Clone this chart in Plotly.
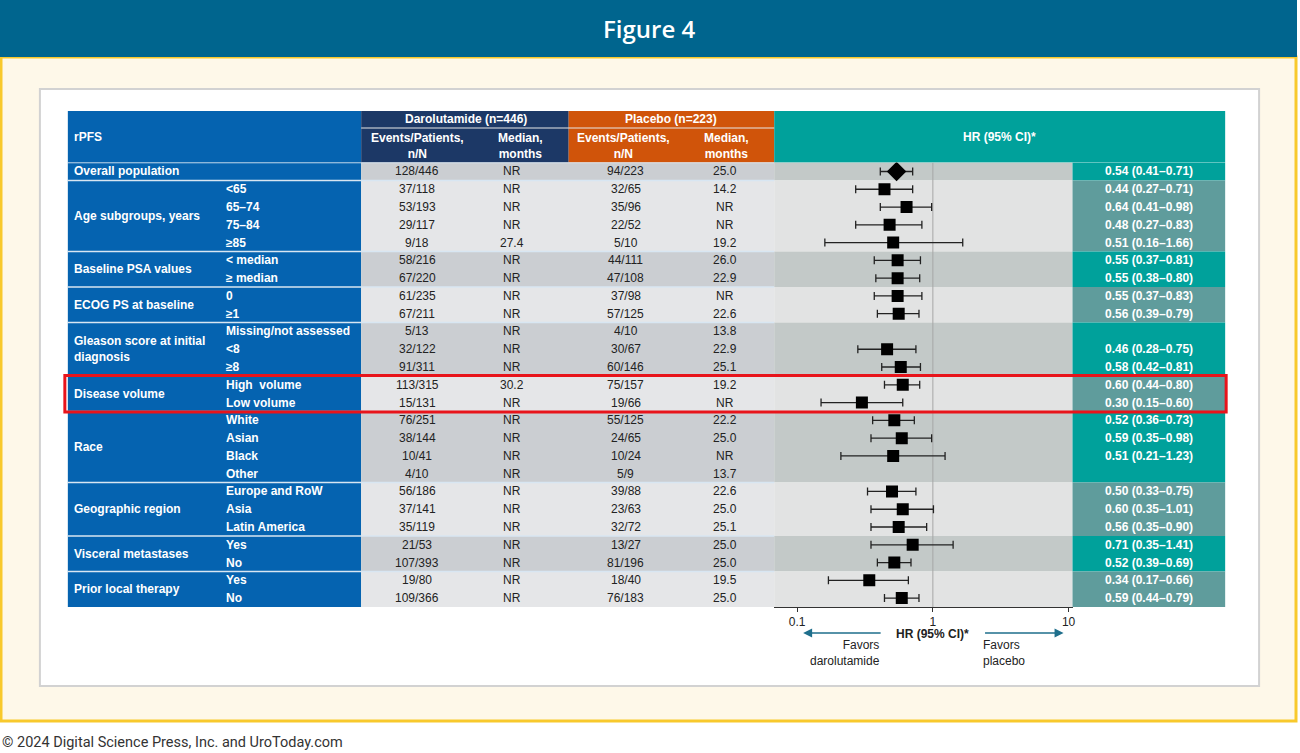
import plotly.graph_objects as go

# ---------------- data ----------------
group_names = ["Overall population", "Age subgroups, years", "Baseline PSA values",
               "ECOG PS at baseline", "Gleason score at initial<br>diagnosis", "Disease volume",
               "Race", "Geographic region", "Visceral metastases", "Prior local therapy"]
group_sizes = [1, 4, 2, 2, 3, 2, 4, 3, 2, 2]

sub_labels = ["", "<65", "65–74", "75–84", "≥85", "< median", "≥ median", "0", "≥1",
              "Missing/not assessed", "<8", "≥8", "High  volume", "Low volume",
              "White", "Asian", "Black", "Other", "Europe and RoW", "Asia", "Latin America",
              "Yes", "No", "Yes", "No"]
daro_events = ["128/446", "37/118", "53/193", "29/117", "9/18", "58/216", "67/220", "61/235",
               "67/211", "5/13", "32/122", "91/311", "113/315", "15/131", "76/251", "38/144",
               "10/41", "4/10", "56/186", "37/141", "35/119", "21/53", "107/393", "19/80", "109/366"]
daro_median = ["NR", "NR", "NR", "NR", "27.4", "NR", "NR", "NR", "NR", "NR", "NR", "NR", "30.2",
               "NR", "NR", "NR", "NR", "NR", "NR", "NR", "NR", "NR", "NR", "NR", "NR"]
pbo_events = ["94/223", "32/65", "35/96", "22/52", "5/10", "44/111", "47/108", "37/98", "57/125",
              "4/10", "30/67", "60/146", "75/157", "19/66", "55/125", "24/65", "10/24", "5/9",
              "39/88", "23/63", "32/72", "13/27", "81/196", "18/40", "76/183"]
pbo_median = ["25.0", "14.2", "NR", "NR", "19.2", "26.0", "22.9", "NR", "22.6", "13.8", "22.9",
              "25.1", "19.2", "NR", "22.2", "25.0", "NR", "13.7", "22.6", "25.0", "25.1", "25.0",
              "25.0", "19.5", "25.0"]
hr = [0.54, 0.44, 0.64, 0.48, 0.51, 0.55, 0.55, 0.55, 0.56, None, 0.46, 0.58, 0.60, 0.30,
      0.52, 0.59, 0.51, None, 0.50, 0.60, 0.56, 0.71, 0.52, 0.34, 0.59]
lo = [0.41, 0.27, 0.41, 0.27, 0.16, 0.37, 0.38, 0.37, 0.39, None, 0.28, 0.42, 0.44, 0.15,
      0.36, 0.35, 0.21, None, 0.33, 0.35, 0.35, 0.35, 0.39, 0.17, 0.44]
hi = [0.71, 0.71, 0.98, 0.83, 1.66, 0.81, 0.80, 0.83, 0.79, None, 0.75, 0.81, 0.80, 0.60,
      0.73, 0.98, 1.23, None, 0.75, 1.01, 0.90, 1.41, 0.69, 0.66, 0.79]
tick_vals = [0.1, 1, 10]
tick_text = ["0.1", "1", "10"]

# ---------------- layout helpers ----------------
W, H = 1300, 753
def px(x): return x / W
def py(y): return 1 - y / H

FONT = "Liberation Sans, Arial, sans-serif"
shapes = []
ann = []

def rect(x0, y0, x1, y1, fill, yref="paper", line_color=None, line_width=0, layer="below"):
    if yref == "paper":
        y0, y1 = py(y0), py(y1)
    shapes.append(dict(type="rect", xref="paper", yref=yref, x0=px(x0), x1=px(x1), y0=y0, y1=y1,
                       fillcolor=fill, layer=layer,
                       line=dict(color=line_color or fill, width=line_width)))

def text(x, y, s, size=12, color="#222", xanchor="center", yref="paper", bold=False, family=FONT,
         align="center", weight=None):
    if yref == "paper":
        y = py(y)
    f = dict(size=size, color=color, family=family)
    if weight:
        f["weight"] = weight
    ann.append(dict(x=px(x), y=y, xref="paper", yref=yref, text=("<b>%s</b>" % s) if bold else s,
                    showarrow=False, xanchor=xanchor, yanchor="middle", align=align, font=f))

# frame
rect(1, 57, 1299, 721, "#fef8e9", line_color="#f8c92c", line_width=3)
rect(0, 0, 1300, 57, "#00658e")
rect(40, 89, 1262, 686, "#ffffff", line_color="#d2d2d2", line_width=2)

# header
TOP, HB = 111, 162.6
rect(68, TOP, 362, HB, "#0563b0")
rect(362, TOP, 570, HB, "#1c3866")
rect(570, TOP, 776, HB, "#d0540a")
rect(776, TOP, 1228, HB, "#00a19b")
shapes.append(dict(type="line", xref="paper", yref="paper", x0=px(362), x1=px(776),
                   y0=py(128), y1=py(128), line=dict(color="#e8e8e8", width=1)))

# body
rect(68, HB, 362, 607, "#0563b0")
start = 0
for gi, sz in enumerate(group_sizes):
    dark = gi % 2 == 0
    y0, y1 = start - 0.5, start + sz - 0.5
    rect(362, y0, 776, y1, "#cbced2" if dark else "#e5e6e8", yref="y")
    rect(776, y0, 1075, y1, "#c3c9c8" if dark else "#e2e3e3", yref="y")
    rect(1075, y0, 1228, y1, "#00a19b" if dark else "#5f9c9c", yref="y")
    shapes.append(dict(type="line", xref="paper", yref="y", x0=px(68), x1=px(776), y0=y0, y1=y0,
                       line=dict(color="#d8e6f2", width=1.5), layer="below"))
    cy = start + (sz - 1) / 2
    text(72, cy, group_names[gi], yref="y", color="white", bold=True, xanchor="left", align="left")
    start += sz

# reference line at HR = 1
shapes.append(dict(type="line", xref="x", yref="y", x0=1, x1=1, y0=-0.5, y1=24.5,
                   line=dict(color="#a6a6a6", width=1), layer="below"))

# header texts
text(72, 137, "rPFS", color="white", bold=True, xanchor="left")
text(467, 119.5, "Darolutamide (n=446)", color="white", bold=True)
text(673, 119.5, "Placebo (n=223)", color="white", bold=True)
for cx, l1, l2 in [(418, "Events/Patients,", "n/N"), (522, "Median,", "months"),
                   (625, "Events/Patients,", "n/N"), (728, "Median,", "months")]:
    text(cx, 146, l1 + "<br>" + l2, color="white", bold=True)
text(1002, 137, "HR (95% CI)*", color="white", bold=True)

# table cells
for i in range(len(sub_labels)):
    if sub_labels[i]:
        text(225, i, sub_labels[i], yref="y", color="white", bold=True, xanchor="left")
    text(418, i, daro_events[i], yref="y")
    text(513, i, daro_median[i], yref="y")
    text(627, i, pbo_events[i], yref="y")
    text(727, i, pbo_median[i], yref="y")
    if hr[i] is not None:
        text(1152, i, "%.2f (%.2f–%.2f)" % (hr[i], lo[i], hi[i]), yref="y", color="white", bold=True)

# red highlight box
shapes.append(dict(type="rect", xref="paper", yref="paper", x0=px(65), x1=px(1229),
                   y0=py(375.5), y1=py(412), line=dict(color="#e8141b", width=3), layer="above"))

# axis caption and arrows
text(935, 634, "HR (95% CI)*", bold=True)
ann.append(dict(x=px(805), y=py(633), ax=79, ay=0, xref="paper", yref="paper",
                axref="pixel", ayref="pixel", showarrow=True, arrowhead=2, arrowsize=1.2,
                arrowwidth=1.5, arrowcolor="#1f6f8c", text=""))
ann.append(dict(x=px(1066), y=py(633), ax=-80, ay=0, xref="paper", yref="paper",
                axref="pixel", ayref="pixel", showarrow=True, arrowhead=2, arrowsize=1.2,
                arrowwidth=1.5, arrowcolor="#1f6f8c", text=""))
text(884, 653, "Favors<br>darolutamide", xanchor="right", align="right")
text(983, 653, "Favors<br>placebo", xanchor="left", align="left")

# title & footer
text(650, 29, "Figure 4", size=24, color="white", family="Open Sans, sans-serif", weight=600)
text(0, 742, "© 2024 Digital Science Press, Inc. and UroToday.com", size=14.5, color="#333",
     xanchor="left", family="Roboto, sans-serif")

# ---------------- traces ----------------
rows = list(range(len(hr)))
def err(idx):
    xs = [hr[i] for i in idx]
    plus = [(hi[i] - hr[i]) if hr[i] is not None else None for i in idx]
    minus = [(hr[i] - lo[i]) if hr[i] is not None else None for i in idx]
    return xs, plus, minus

fig = go.Figure()
xs, plus, minus = err([0])
fig.add_trace(go.Scatter(x=xs, y=[0], mode="markers",
                         marker=dict(symbol="diamond", size=15, color="black"),
                         error_x=dict(type="data", symmetric=False, array=plus, arrayminus=minus,
                                      color="#222", thickness=1.3, width=4)))
idx = rows[1:]
xs, plus, minus = err(idx)
fig.add_trace(go.Scatter(x=xs, y=idx, mode="markers",
                         marker=dict(symbol="square", size=12, color="black"),
                         error_x=dict(type="data", symmetric=False, array=plus, arrayminus=minus,
                                      color="#222", thickness=1.3, width=4)))

fig.update_layout(
    width=W, height=H, autosize=False, margin=dict(l=0, r=0, t=0, b=0),
    paper_bgcolor="white", plot_bgcolor="rgba(0,0,0,0)", showlegend=False,
    shapes=shapes, annotations=ann,
    xaxis=dict(type="log", range=[-1.169, 1.029], domain=[px(776), px(1075)],
               tickvals=tick_vals, ticktext=tick_text, showgrid=False, zeroline=False,
               showline=True, linecolor="#333", linewidth=1, ticks="outside", ticklen=4,
               tickcolor="#333", tickfont=dict(size=12, color="#222", family=FONT)),
    yaxis=dict(range=[24.5, -0.5], domain=[py(607), py(162.6)], visible=False),
)
fig.write_html("out.html", config={"displayModeBar": False},
               post_script="document.body.style.margin='0';document.body.style.overflow='hidden';")
